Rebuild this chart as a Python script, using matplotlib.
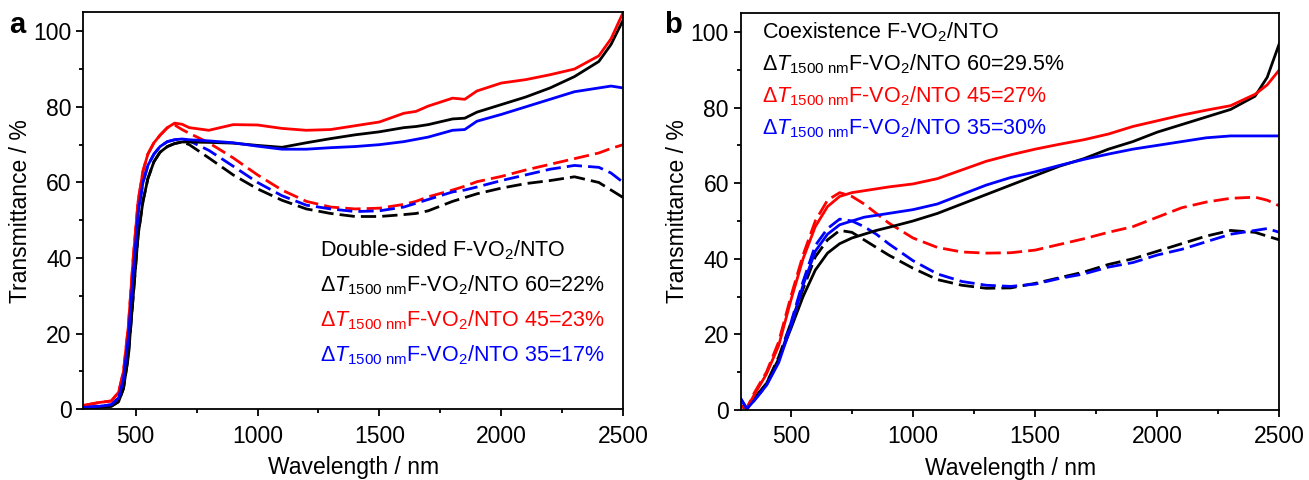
import numpy as np
import matplotlib
matplotlib.use("Agg")
import matplotlib.pyplot as plt
from matplotlib.ticker import MultipleLocator

plt.rcParams['font.family'] = ['Liberation Sans', 'DejaVu Sans']
plt.rcParams['mathtext.fontset'] = 'custom'
plt.rcParams['mathtext.rm'] = 'Liberation Sans'
plt.rcParams['mathtext.it'] = 'Liberation Sans:italic'
plt.rcParams['mathtext.bf'] = 'Liberation Sans:bold'

# ---- panel a : double-sided ----
wl_a = [285, 350, 400, 430, 450, 470, 490, 510, 530, 550, 575, 600, 630, 660, 690,
        720, 800, 900, 1000, 1100, 1200, 1300, 1400, 1500, 1600, 1650, 1700, 1800,
        1850, 1900, 2000, 2100, 2200, 2300, 2400, 2450, 2500]
a60_hot = [0.3, 0.5, 0.8, 2.0, 5.5, 14, 30, 46, 55, 61, 65.5, 68, 69.5, 70.3, 70.7,
           70.7, 70.6, 70.4, 69.8, 69.3, 70.5, 71.6, 72.6, 73.4, 74.5, 74.8, 75.3, 76.8,
           77.0, 78.6, 80.6, 82.6, 85.0, 88.0, 92.0, 96.5, 103]
a45_hot = [1.0, 1.8, 2.2, 4.5, 10, 22, 40, 55, 63, 67.5, 70.5, 72.5, 74.5, 75.7, 75.4,
           74.5, 73.8, 75.3, 75.2, 74.3, 73.8, 74.0, 75.0, 76.0, 78.3, 78.8, 80.2, 82.3,
           82.0, 84.2, 86.3, 87.2, 88.5, 90.0, 93.5, 98, 105]
a35_hot = [0.5, 0.8, 1.2, 3.0, 8, 19, 36, 52, 60, 64.5, 67.5, 69.5, 70.8, 71.3, 71.5,
           71.3, 71.0, 70.5, 69.6, 68.8, 68.8, 69.2, 69.5, 70.0, 70.8, 71.4, 72.0, 73.8,
           74.0, 76.2, 78.0, 80.0, 82.0, 84.0, 85.0, 85.5, 85.0]
a60_cold = [0.3, 0.5, 0.8, 2.0, 5.5, 14, 30, 46, 55, 61, 65.5, 68, 69.5, 70.3, 70.7,
            70.0, 66.5, 62.0, 58.3, 55.3, 53.0, 51.8, 51.0, 51.0, 51.5, 51.8, 52.5, 55.0,
            56.0, 57.0, 58.5, 59.7, 60.5, 61.5, 60.0, 58.0, 56.0]
a45_cold = [1.0, 1.8, 2.2, 4.5, 10, 22, 40, 55, 63, 67.5, 70.5, 72.5, 74.5, 75.2, 74.0,
            73.0, 70.5, 66.5, 62.0, 58.0, 55.0, 53.5, 53.0, 53.2, 54.2, 55.0, 56.2, 58.0,
            59.0, 60.2, 61.6, 63.3, 64.8, 66.3, 67.8, 69.0, 70.0]
a35_cold = [0.5, 0.8, 1.2, 3.0, 8, 19, 36, 52, 60, 64.5, 67.5, 69.5, 70.8, 71.3, 71.5,
            71.0, 68.5, 64.3, 60.0, 56.5, 54.0, 53.0, 52.3, 52.5, 53.5, 54.5, 55.5, 57.5,
            58.0, 58.8, 60.5, 62.0, 63.5, 64.5, 64.0, 62.5, 60.0]

# ---- panel b : coexistence ----
wl_b = [295, 320, 350, 400, 450, 500, 550, 600, 650, 700, 750, 800, 850, 900, 1000,
        1100, 1200, 1300, 1400, 1500, 1600, 1700, 1800, 1900, 2000, 2100, 2200, 2300,
        2400, 2450, 2500]
b60_hot = [1.0, 0.5, 3.0, 7.0, 13.5, 21.5, 30, 37, 41.5, 44, 45.5, 46.5, 47.5, 48.3, 50.0,
           52.0, 54.5, 57.0, 59.5, 62.0, 64.5, 66.5, 69.0, 71.0, 73.5, 75.5, 77.5, 79.5,
           83.0, 88.0, 97.0]
b45_hot = [1.0, 0.5, 4.0, 9.5, 17, 29, 40, 48.5, 53.8, 56.5, 57.5, 58.0, 58.5, 59.0, 59.8,
           61.2, 63.5, 65.8, 67.5, 69.0, 70.3, 71.5, 73.0, 75.0, 76.5, 78.0, 79.3, 80.5,
           83.5, 86.0, 90.0]
b35_hot = [3.0, 0.3, 2.5, 6.5, 12.5, 22, 33, 42, 46.5, 49, 50.0, 51.0, 51.5, 52.0, 53.0,
           54.5, 57.0, 59.5, 61.5, 63.0, 64.7, 66.3, 67.7, 69.0, 70.0, 71.0, 72.0, 72.5,
           72.5, 72.5, 72.5]
b60_cold = [1.0, 0.5, 3.0, 7.0, 14, 23, 32, 40.5, 45, 47.5, 47.0, 45.0, 43.0, 41.0, 37.5,
            34.5, 33.0, 32.2, 32.3, 33.5, 35.0, 36.5, 38.5, 40.0, 42.0, 44.0, 46.0, 47.5,
            47.0, 46.0, 45.0]
b45_cold = [1.0, 0.5, 4.5, 10.0, 18, 30, 41, 50, 55.5, 57.5, 56.5, 54.5, 52.0, 49.5, 45.5,
            43.0, 41.8, 41.5, 41.6, 42.3, 43.8, 45.3, 47.0, 48.5, 51.0, 53.5, 55.0, 56.0,
            56.3, 55.5, 54.0]
b35_cold = [3.0, 0.3, 2.5, 6.5, 13, 23, 34, 43.5, 48, 50.5, 50.0, 48.5, 46.5, 44.0, 39.5,
            36.0, 34.0, 33.0, 32.7, 33.3, 34.8, 36.0, 37.8, 39.0, 41.0, 42.5, 44.5, 46.5,
            47.5, 48.0, 47.0]

cols = ['black', '#ff0000', '#0000ff']
dash = (0, (5.5, 2.2))

fig = plt.figure(figsize=(13.09, 4.8), dpi=100)
ax1 = fig.add_axes([0.0636, 0.1473, 0.4125, 0.827])
ax2 = fig.add_axes([0.5659, 0.1458, 0.4115, 0.827])

for c, y in zip(cols, [a60_cold, a45_cold, a35_cold]):
    ax1.plot(wl_a, y, color=c, lw=2, ls=dash)
for c, y in zip(cols, [a60_hot, a45_hot, a35_hot]):
    ax1.plot(wl_a, y, color=c, lw=2)
for c, y in zip(cols, [b60_cold, b45_cold, b35_cold]):
    ax2.plot(wl_b, y, color=c, lw=2, ls=dash)
for c, y in zip(cols, [b60_hot, b45_hot, b35_hot]):
    ax2.plot(wl_b, y, color=c, lw=2)

for ax, left in [(ax1, 285), (ax2, 295)]:
    ax.set_xlim(left, 2500)
    ax.set_ylim(0, 105)
    ax.xaxis.set_major_locator(MultipleLocator(500))
    ax.xaxis.set_minor_locator(MultipleLocator(250))
    ax.yaxis.set_major_locator(MultipleLocator(20))
    ax.yaxis.set_minor_locator(MultipleLocator(10))
    ax.tick_params(which='major', direction='out', length=5, width=1.3, labelsize=16.5)
    ax.tick_params(axis='x', which='major', pad=6)
    ax.tick_params(which='minor', direction='out', length=3, width=1.3)
    for s in ax.spines.values():
        s.set_linewidth(1.3)
    ax.set_xlabel('Wavelength / nm', fontsize=16.5, labelpad=6)
    ax.set_ylabel('Transmittance / %', fontsize=16.5, labelpad=1)

sub = r'$\Delta\mathit{T}_{\mathrm{1500\ nm}}$'
fs = 15.5
ax1.text(1255, 42, r'Double-sided F-VO$_2$/NTO', fontsize=fs, va='center')
ax1.text(1255, 32.8, sub + r'F-VO$_2$/NTO 60=22%', fontsize=fs, va='center', color=cols[0])
ax1.text(1255, 23.6, sub + r'F-VO$_2$/NTO 45=23%', fontsize=fs, va='center', color=cols[1])
ax1.text(1255, 14.4, sub + r'F-VO$_2$/NTO 35=17%', fontsize=fs, va='center', color=cols[2])

ax2.text(381, 100, r'Coexistence F-VO$_2$/NTO', fontsize=fs, va='center')
ax2.text(381, 91.5, sub + r'F-VO$_2$/NTO 60=29.5%', fontsize=fs, va='center', color=cols[0])
ax2.text(381, 83, sub + r'F-VO$_2$/NTO 45=27%', fontsize=fs, va='center', color=cols[1])
ax2.text(381, 74.5, sub + r'F-VO$_2$/NTO 35=30%', fontsize=fs, va='center', color=cols[2])

fig.text(0.007, 0.932, 'a', fontsize=21, fontweight='bold')
fig.text(0.507, 0.932, 'b', fontsize=21, fontweight='bold')

fig.savefig('out.png', dpi=100)
